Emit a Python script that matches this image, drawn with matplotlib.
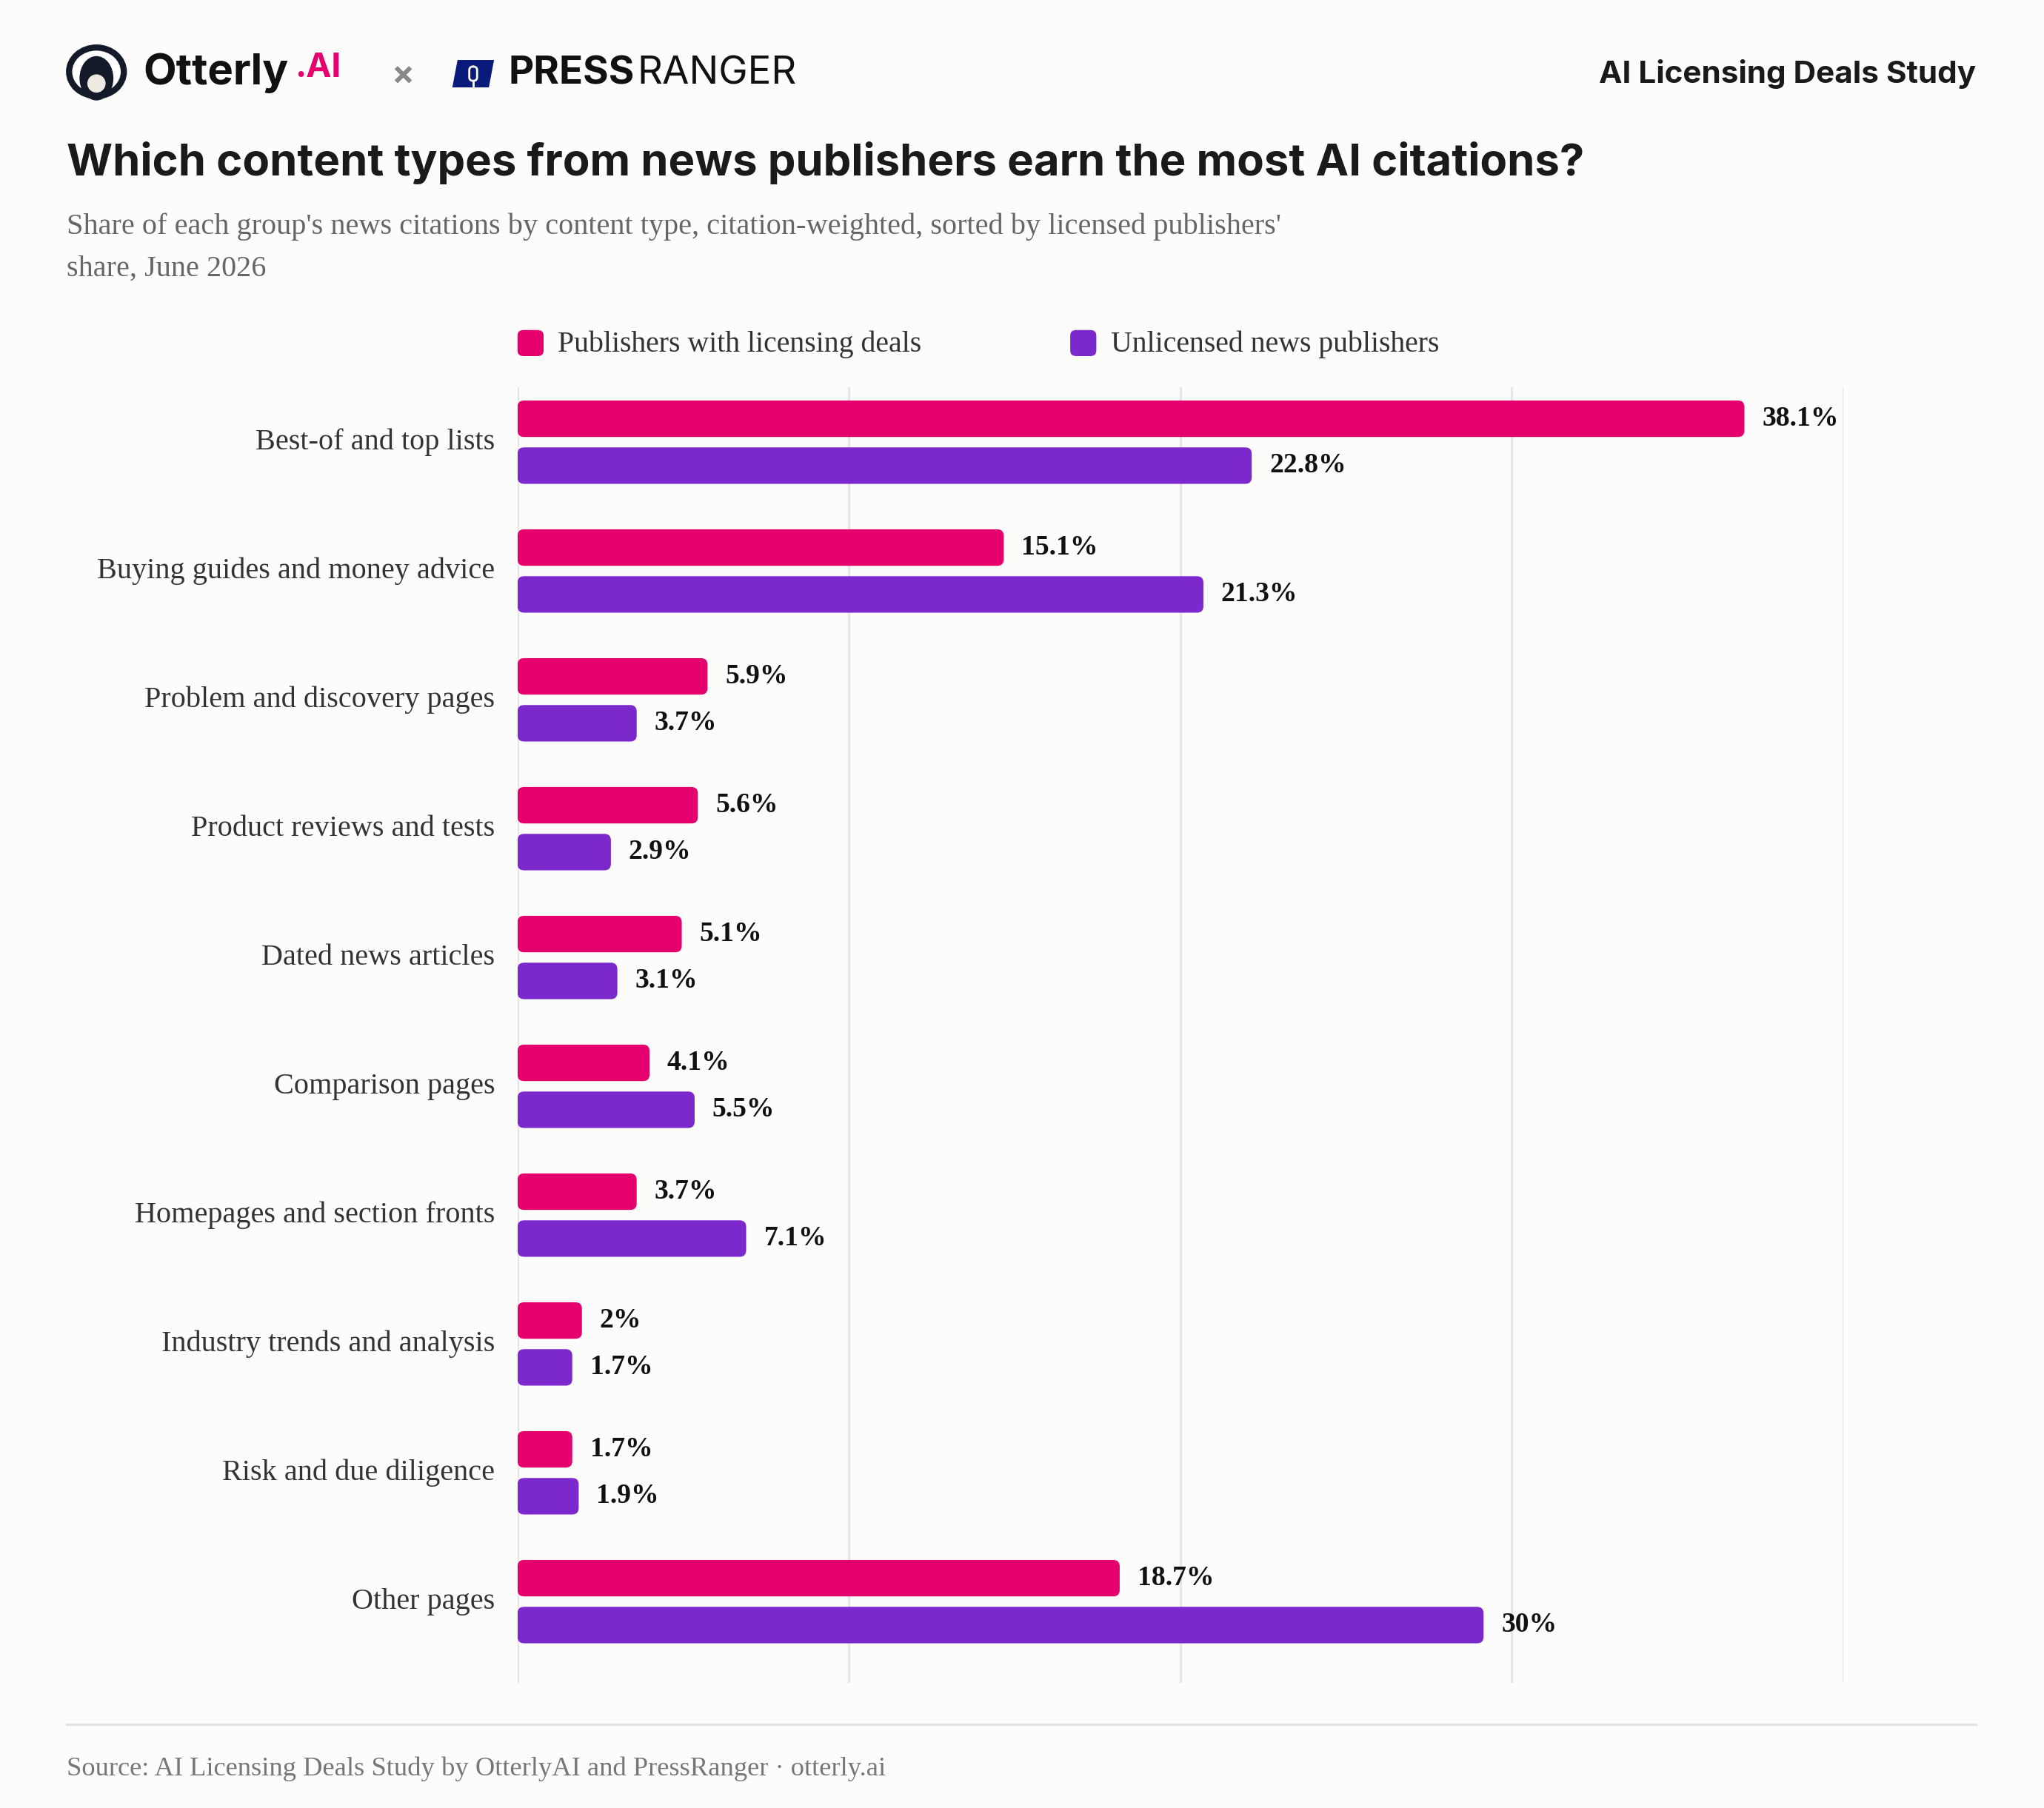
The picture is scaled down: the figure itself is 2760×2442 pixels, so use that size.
import matplotlib
matplotlib.use("Agg")
import matplotlib.pyplot as plt
from matplotlib.patches import FancyBboxPatch, Circle, Ellipse, Polygon

categories = ["Best-of and top lists", "Buying guides and money advice",
              "Problem and discovery pages", "Product reviews and tests",
              "Dated news articles", "Comparison pages",
              "Homepages and section fronts", "Industry trends and analysis",
              "Risk and due diligence", "Other pages"]
licensed = [38.1, 15.1, 5.9, 5.6, 5.1, 4.1, 3.7, 2.0, 1.7, 18.7]
unlicensed = [22.8, 21.3, 3.7, 2.9, 3.1, 5.5, 7.1, 1.7, 1.9, 30.0]
series_names = ["Publishers with licensing deals", "Unlicensed news publishers"]

PINK = "#e5006e"
PURPLE = "#7b28cc"
BG = "#fcfcfb"
W, H = 1568, 1386  # layout reference units


def fx(x):
    return x / W


def fy(y):
    return 1 - y / H


def pt(px):
    return px * 0.634


def fmt(v):
    return f"{v:g}%"


fig = plt.figure(figsize=(13.8, 12.21), dpi=200, facecolor=BG)
serif = ["Liberation Serif", "DejaVu Serif"]
sans = ["Inter", "DejaVu Sans"]
SF = 1.09  # serif size correction

ax = fig.add_axes([fx(397), fy(1290), fx(1414) - fx(397), (1290 - 297) / H])
ax.set_facecolor(BG)
xmax = 41.17
ax.set_xlim(0, xmax)
ax.set_ylim(9.63, -0.425)
for g in range(5):
    ax.axvline(g * xmax / 4, color="#e6e6ea", lw=1.2, zorder=0)

bh = 0.283
off = 0.182
for i, cat in enumerate(categories):
    for v, c, dy in ((licensed[i], PINK, -off), (unlicensed[i], PURPLE, off)):
        y0 = i + dy - bh / 2
        ax.add_patch(FancyBboxPatch((0, y0), v, bh,
                                    boxstyle="round,pad=0,rounding_size=0.2",
                                    mutation_aspect=0.25, fc=c, ec="none", zorder=2))
        ax.text(v + 0.55, i + dy, fmt(v), va="center", ha="left", fontsize=pt(20) * 1.07,
                fontweight="bold", family=serif, color="#111111")
    ax.text(-0.7, i, cat, va="center", ha="right", fontsize=pt(22) * 1.04,
            family=serif, color="#333333")
for s in ax.spines.values():
    s.set_visible(False)
ax.set_xticks([])
ax.set_yticks([])

# legend
for (x, name, c) in ((397, series_names[0], PINK), (821, series_names[1], PURPLE)):
    fig.patches.append(FancyBboxPatch((fx(x), fy(273)), fx(20), 20 / H,
                                      boxstyle="round,pad=0,rounding_size=0.003",
                                      transform=fig.transFigure, fc=c, ec="none"))
    fig.text(fx(x + 31), fy(264), name, va="center", ha="left", fontsize=pt(21) * 1.075,
             family=serif, color="#333333")

# header
fig.text(fx(51), fy(125), "Which content types from news publishers earn the most AI citations?",
         fontsize=pt(33) * 1.03, fontweight="bold", family=sans, color="#1a1a1a", va="center")
fig.text(fx(51), fy(174), "Share of each group's news citations by content type, citation-weighted, sorted by licensed publishers'",
         fontsize=pt(21) * SF, family=serif, color="#666666", va="center")
fig.text(fx(51), fy(206), "share, June 2026", fontsize=pt(21) * SF, family=serif,
         color="#666666", va="center")
fig.text(fx(1516), fy(57), "AI Licensing Deals Study", fontsize=pt(24), fontweight="bold",
         family=sans, color="#1a1a1a", ha="right", va="center")

# logos
fig.patches.append(Circle((fx(74), fy(55)), 21 / W, transform=fig.transFigure,
                          fc="white", ec="#141a2a", lw=3))
fig.patches.append(Ellipse((fx(74), fy(60)), 26 / W, 34 / H, transform=fig.transFigure,
                           fc="#141a2a", ec="none"))
fig.patches.append(Ellipse((fx(74), fy(64)), 14 / W, 14 / H, transform=fig.transFigure,
                           fc="#eeeae2", ec="none"))
fig.text(fx(110), fy(56), "Otterly", fontsize=pt(33), fontweight="bold", family=sans,
         color="#111111", va="center")
fig.text(fx(226), fy(52), ".AI", fontsize=pt(26), fontweight="bold", family=sans,
         color=PINK, va="center")
fig.text(fx(309), fy(58), "×", fontsize=pt(26), fontweight="bold", family=sans,
         color="#888888", va="center", ha="center")
fig.patches.append(Polygon([(fx(347), fy(67)), (fx(375), fy(67)), (fx(379), fy(46)), (fx(351), fy(46))],
                           closed=True, transform=fig.transFigure, fc="#0a1a7a", ec="none"))
# microphone
fig.patches.append(FancyBboxPatch((fx(360), fy(62)), fx(6), 11 / H,
                                  boxstyle="round,pad=0,rounding_size=0.002",
                                  transform=fig.transFigure, fc="none", ec="white", lw=1))
fig.add_artist(plt.Line2D([fx(363), fx(363)], [fy(62), fy(66)], color="white", lw=1))
fig.text(fx(390), fy(57), "PRESS", fontsize=pt(30), fontweight="bold", family=sans,
         color="#111111", va="center")
fig.text(fx(489), fy(57), "RANGER", fontsize=pt(30), family=sans,
         color="#111111", va="center")

# footer
fig.add_artist(plt.Line2D([fx(51), fx(1516)], [fy(1322), fy(1322)], color="#e3e3e3", lw=1.2))
fig.text(fx(51), fy(1356), "Source: AI Licensing Deals Study by OtterlyAI and PressRanger · otterly.ai",
         fontsize=pt(19) * SF, family=serif, color="#777777", va="center")

fig.savefig("out.png", dpi=200, facecolor=BG)
